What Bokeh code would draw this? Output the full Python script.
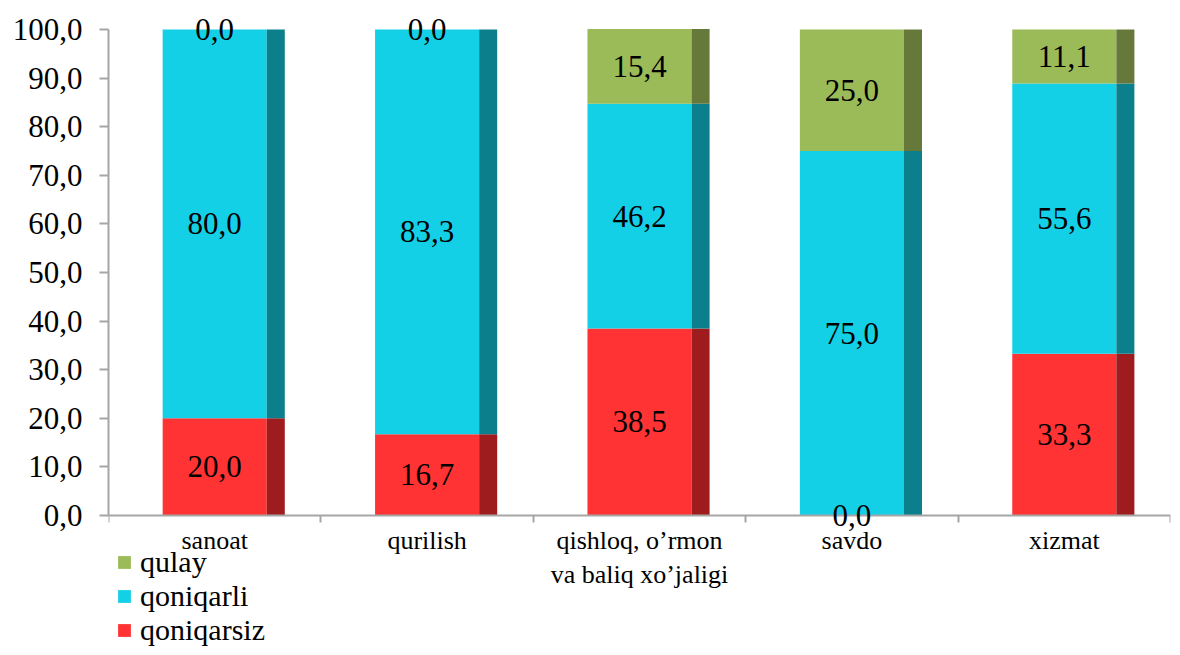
import numpy as np
from bokeh.plotting import figure
from bokeh.models import (Range1d, FixedTicker, ColumnDataSource, LabelSet,
                          Legend, LegendItem)
from bokeh.embed import file_html
from bokeh.resources import INLINE

# ---- data ----
categories = ["sanoat", "qurilish", "qishloq, o\u2019rmon\nva baliq xo\u2019jaligi", "savdo", "xizmat"]
qoniqarsiz = [20.0, 16.7, 38.5, 0.0, 33.3]
qoniqarli = [80.0, 83.3, 46.2, 75.0, 55.6]
qulay = [0.0, 0.0, 15.4, 25.0, 11.1]
y_ticks = [0, 10, 20, 30, 40, 50, 60, 70, 80, 90, 100]

series = [("qoniqarsiz", qoniqarsiz, "#FF3333", "#9E1C1E"),
          ("qoniqarli", qoniqarli, "#14D0E6", "#0B7F8B"),
          ("qulay", qulay, "#9BBB59", "#66783A")]

FONT = "Liberation Serif"
fmt = lambda v: f"{v:.1f}".replace(".", ",")

n = len(categories)
centers = np.arange(n) + 0.5
FRONT_W = 0.49
SIDE_W = 0.085

# layout (pixels)
W, H = 1172, 647
TOP, LEFT, RIGHT = 10, 108, 2
Y100_PX, Y0_PX = 29, 515          # where 100 and 0 sit on the page
ppu = (Y0_PX - Y100_PX) / 100.0
y_max = 100 + (Y100_PX - TOP) / ppu
y_min = -(H - Y0_PX) / ppu

p = figure(width=W, height=H, output_backend="svg", toolbar_location=None,
           x_range=Range1d(0, n), y_range=Range1d(y_min, y_max),
           min_border_left=LEFT, min_border_right=RIGHT, min_border_top=TOP,
           min_border_bottom=0)
p.outline_line_color = None
p.xgrid.visible = False
p.ygrid.visible = False
p.background_fill_color = "white"
p.border_fill_color = "white"

bottom = np.zeros(n)
renderers = {}
lbl_x, lbl_y, lbl_t = [], [], []
for name, vals, front, side in series:
    vals = np.array(vals)
    top = bottom + vals
    r = p.vbar(x=centers, width=FRONT_W, bottom=bottom, top=top,
               fill_color=front, line_color=None)
    p.vbar(x=centers + FRONT_W / 2 + SIDE_W / 2, width=SIDE_W, bottom=bottom, top=top,
           fill_color=side, line_color=None)
    renderers[name] = r
    lbl_x.extend(centers)
    lbl_y.extend((bottom + top) / 2)
    lbl_t.extend(fmt(v) for v in vals)
    bottom = top

src = ColumnDataSource(dict(x=lbl_x, y=lbl_y, t=lbl_t))
labels = LabelSet(x="x", y="y", text="t", source=src, text_align="center",
                  text_baseline="middle", text_font=FONT, text_font_size="31px",
                  text_color="black")
p.add_layout(labels)

AXIS_COLOR = "#A6A6A6"

# y axis
ya = p.yaxis[0]
ya.bounds = (0, 100)
ya.ticker = FixedTicker(ticks=y_ticks, minor_ticks=[])
ya.major_label_overrides = {t: fmt(t) for t in y_ticks}
ya.major_label_text_font = FONT
ya.major_label_text_font_size = "31px"
ya.major_label_text_color = "black"
ya.major_label_standoff = 17
ya.major_tick_out = 9
ya.major_tick_in = 0
ya.minor_tick_out = 0
ya.minor_tick_in = 0
ya.axis_line_color = AXIS_COLOR
ya.axis_line_width = 2
ya.major_tick_line_color = AXIS_COLOR
ya.major_tick_line_width = 2

# x axis (drawn at y = 0)
xa = p.xaxis[0]
xa.fixed_location = 0
xa.ticker = FixedTicker(ticks=list(centers), minor_ticks=list(range(n + 1)))
xa.major_label_overrides = {float(c): lab for c, lab in zip(centers, categories)}
xa.major_label_text_font = FONT
xa.major_label_text_font_size = "26px"
xa.major_label_text_color = "black"
xa.major_label_text_align = "center"
xa.major_tick_out = 0
xa.major_tick_in = 0
xa.minor_tick_out = 7
xa.minor_tick_in = 0
xa.minor_tick_line_color = AXIS_COLOR
xa.minor_tick_line_width = 2
xa.major_label_standoff = 3
xa.axis_line_color = AXIS_COLOR
xa.axis_line_width = 2

legend = Legend(items=[LegendItem(label=name, renderers=[renderers[name]])
                       for name in ["qulay", "qoniqarli", "qoniqarsiz"]],
                location=(8, 0), orientation="vertical",
                label_text_font=FONT, label_text_font_size="30px",
                label_text_color="black", glyph_width=16, glyph_height=16,
                label_standoff=8, spacing=-2, padding=0, margin=0,
                label_height=31, border_line_color=None,
                background_fill_alpha=0)
p.add_layout(legend)

open("out.html", "w").write(file_html(p, INLINE))
